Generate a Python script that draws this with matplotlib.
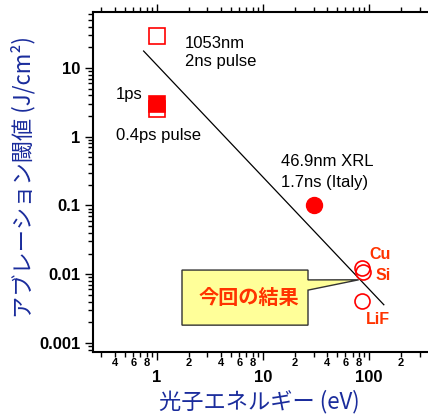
import numpy as np
import matplotlib.pyplot as plt
from matplotlib.ticker import LogLocator, FuncFormatter, NullFormatter, FixedLocator
from matplotlib.patches import Polygon

# data
ir_x = [1.0]          # 1053nm, 2ns pulse
ir_y = [29.0]
ps1_x = [1.0]         # 1ps
ps1_y = [3.0]
ps04_x = [1.0]        # 0.4ps pulse
ps04_y = [2.5]
xrl_x = [30.0]        # 46.9nm XRL 1.7ns (Italy)
xrl_y = [0.1]
ours_names = ['Cu', 'Si', 'LiF']
ours_x = [86.0, 88.0, 86.0]
ours_y = [0.0125, 0.0106, 0.0041]
fit_x = [0.75, 138.0]
fit_y = [17.6, 0.0036]

red = '#ff0000'
lab_red = '#ff3300'
blue = '#1a2c9c'
cjk = ['Noto Sans CJK JP', 'DejaVu Sans']

fig = plt.figure(figsize=(4.28, 4.15), dpi=100)
ax = fig.add_axes([93/428, 63/415, 335/428, 340/415])
ax.set_xscale('log')
ax.set_yscale('log')
ax.set_xlim(0.25, 360)
ax.set_ylim(7.4e-4, 65)
ax.spines['right'].set_visible(False)

ax.plot(fit_x, fit_y, color='black', lw=0.9, zorder=2)
ax.plot(ir_x, ir_y, 's', ms=11.5, mfc='white', mec=red, mew=1.2, zorder=4)
ax.plot(ps04_x, ps04_y, 's', ms=11.5, mfc='white', mec=red, mew=1.2, zorder=4)
ax.plot(ps1_x, ps1_y, 's', ms=11.5, mfc=red, mec=red, mew=1.2, zorder=5)
ax.plot(xrl_x, xrl_y, 'o', ms=11.5, mfc=red, mec=red, zorder=4)
ax.plot(ours_x, ours_y, 'o', ms=10.8, mfc='none', mec=red, mew=1.2, zorder=6)

# text labels
tf = 'Liberation Sans'
ax.text(1.84, 23, '1053nm', fontsize=12, family=tf, va='center')
ax.text(1.84, 12.5, '2ns pulse', fontsize=12, family=tf, va='center')
ax.text(0.41, 4.1, '1ps', fontsize=12, family=tf, va='center')
ax.text(0.41, 1.03, '0.4ps pulse', fontsize=12, family=tf, va='center')
ax.text(14.8, 0.434, '46.9nm XRL', fontsize=12, family=tf, va='center')
ax.text(14.8, 0.215, '1.7ns (Italy)', fontsize=12, family=tf, va='center')
lab_pos = [(127, 0.0195), (135.6, 0.0097), (121.7, 0.00223)]
for name, (lx, ly) in zip(ours_names, lab_pos):
    ax.text(lx, ly, name, fontsize=11.5, family=tf, weight='bold',
            color=lab_red, ha='center', va='center')

# callout box pointing at the Si point
tip = (ax.transData + ax.transAxes.inverted()).transform((80, 0.0083))
bx0, bx1, by0, by1 = 89/335, 215/335, 0.079, 0.241
pts = [(bx0, by0), (bx1, by0), (bx1, 0.182), tuple(tip), (bx1, 0.212),
       (bx1, by1), (bx0, by1)]
ax.add_patch(Polygon(pts, closed=True, transform=ax.transAxes, fc='#ffff99',
                     ec='#333333', lw=1.0, zorder=3))
ax.text(156/335, 0.159, '今回の結果', transform=ax.transAxes, fontsize=14.5,
        family=cjk, weight='bold', color=lab_red, ha='center', va='center',
        zorder=3)

# axes styling
for s in ax.spines.values():
    s.set_linewidth(1.5)
ax.xaxis.set_major_locator(LogLocator(base=10, numticks=10))
ax.xaxis.set_minor_locator(LogLocator(base=10, subs=np.arange(2, 10), numticks=20))
ax.xaxis.set_major_formatter(FuncFormatter(lambda v, p: '%g' % v))

def minor_fmt(v, p):
    m = int(round(v / 10 ** np.floor(np.log10(v) + 1e-9)))
    return str(m) if m in (2, 4, 6, 8) else ''

ax.xaxis.set_minor_formatter(FuncFormatter(minor_fmt))
ax.yaxis.set_major_locator(FixedLocator([0.001, 0.01, 0.1, 1, 10]))
ax.yaxis.set_major_formatter(FuncFormatter(lambda v, p: '%g' % v))
ax.yaxis.set_minor_locator(LogLocator(base=10, subs=np.arange(2, 10), numticks=20))
ax.yaxis.set_minor_formatter(NullFormatter())

ax.tick_params(axis='both', which='both', direction='out', top=True, right=False,
               labeltop=False, width=1.0, colors='black')
ax.tick_params(axis='both', which='major', length=6)
ax.tick_params(axis='both', which='minor', length=3.5)
ax.tick_params(axis='x', which='major', pad=7, labelsize=12)
ax.tick_params(axis='x', which='minor', pad=0.5, labelsize=8)
ax.tick_params(axis='y', which='major', pad=3, labelsize=12)
for lab in ax.get_xticklabels(which='both') + ax.get_yticklabels():
    lab.set_family(tf)
    lab.set_weight('bold')

ax.set_xlabel('光子エネルギー (eV)', fontsize=16, family=cjk, color=blue)
ax.set_ylabel('アブレーション閾値 (J/cm²)', fontsize=16, family=cjk, color=blue)
ax.xaxis.set_label_coords(166/335, -0.11)
ax.yaxis.set_label_coords(-58/335, 0.515)

fig.savefig('out.png', dpi=100)
